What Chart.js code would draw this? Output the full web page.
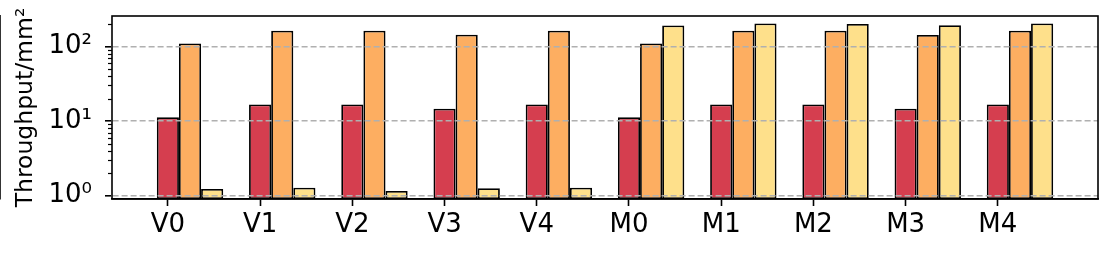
<!DOCTYPE html>
<html>
<head>
<meta charset="utf-8">
<script src="https://cdn.jsdelivr.net/npm/chart.js@4"></script>
<style>
  html, body { margin: 0; padding: 0; background: #fff; }
  #wrap { width: 1114px; height: 257px; }
</style>
</head>
<body>
<div id="wrap"><canvas id="mainChart"></canvas></div>
<script>
const categories = ["V0", "V1", "V2", "V3", "V4", "M0", "M1", "M2", "M3", "M4"];

const redValues = [11.2, 16.7, 16.7, 14.6, 16.7, 11.2, 16.7, 16.7, 14.6, 16.7];
const orangeValues = [109, 162, 162, 143, 162, 109, 162, 162, 142, 162];
const yellowValues = [1.23, 1.28, 1.16, 1.26, 1.28, 190, 203, 200, 192, 203];

const yMajor = [1, 10, 100];
const yTickLabels = ["10\u2070", "10\u00b9", "10\u00b2"];

const BAR_W = 0.24;
const FONT = "'DejaVu Sans', sans-serif";

// minor log ticks (2..9 per decade) inside the y range
const Y_MIN = 0.903, Y_MAX = 255;
const minorTicks = [];
[0.1, 1, 10, 100].forEach(d => {
  for (let k = 2; k <= 9; k++) {
    const v = k * d;
    if (v > Y_MIN && v < Y_MAX) minorTicks.push(v);
  }
});

// bars sit at x + k*w like matplotlib, group centre is one bar right of the tick
const toPoints = vals => vals.map((v, i) => ({ x: i + BAR_W, y: v }));

const framePlugin = {
  id: "frame",
  afterDraw(chart) {
    const { ctx, chartArea: a, scales } = chart;
    const y = scales.y;
    ctx.save();
    ctx.strokeStyle = "#000";
    ctx.lineWidth = 1.2;
    minorTicks.forEach(v => {
      const py = Math.round(y.getPixelForValue(v)) + 0.5;
      ctx.beginPath();
      ctx.moveTo(a.left - 4, py);
      ctx.lineTo(a.left, py);
      ctx.stroke();
    });
    ctx.lineWidth = 1.6;
    ctx.strokeRect(a.left, a.top, a.right - a.left, a.bottom - a.top);
    ctx.restore();
  }
};

const barStyle = {
  borderColor: "#000",
  borderWidth: 1.8,
  borderSkipped: false,
  categoryPercentage: BAR_W * 3,
  barPercentage: 1
};

new Chart(document.getElementById("mainChart"), {
  type: "bar",
  data: {
    datasets: [
      { label: "A", data: toPoints(redValues), backgroundColor: "#d53e4f", ...barStyle },
      { label: "B", data: toPoints(orangeValues), backgroundColor: "#fdae61", ...barStyle },
      { label: "C", data: toPoints(yellowValues), backgroundColor: "#fee08b", ...barStyle }
    ]
  },
  options: {
    responsive: true,
    maintainAspectRatio: false,
    animation: false,
    layout: { padding: { top: 16, right: 16, left: 0, bottom: 0 } },
    plugins: {
      legend: { display: false },
      tooltip: { enabled: false }
    },
    scales: {
      x: {
        type: "linear",
        offset: false,
        min: -0.606,
        max: 10.086,
        afterBuildTicks: s => { s.ticks = categories.map((c, i) => ({ value: i })); },
        afterFit: s => { s.height = 58; s.paddingLeft = 0; s.paddingRight = 0; },
        ticks: {
          autoSkip: false,
          maxRotation: 0,
          padding: 4,
          color: "#000",
          font: { family: FONT, size: 26 },
          callback: v => categories[v]
        },
        grid: {
          offset: false,
          drawOnChartArea: false,
          tickLength: 7,
          tickWidth: 1.6,
          tickColor: "#000"
        },
        border: { color: "#000", width: 1.6 }
      },
      y: {
        type: "logarithmic",
        min: Y_MIN,
        max: Y_MAX,
        afterBuildTicks: s => { s.ticks = yMajor.map(v => ({ value: v, major: true })); },
        afterFit: s => { s.width = 112; s.paddingTop = 0; s.paddingBottom = 0; },
        ticks: {
          autoSkip: false,
          padding: 13,
          color: "#000",
          font: { family: FONT, size: 26 },
          callback: v => yTickLabels[yMajor.indexOf(v)]
        },
        grid: {
          z: 1,
          color: "#b0b0b0",
          lineWidth: 1.6,
          tickLength: 7,
          tickWidth: 1.6,
          tickColor: "#000",
          tickBorderDash: []
        },
        border: { color: "#000", width: 1.6, dash: [6, 3] },
        title: {
          display: true,
          text: "Throughput/mm\u00b2",
          color: "#000",
          font: { family: FONT, size: 23.5 },
          padding: { top: 12, bottom: 0 }
        }
      }
    }
  },
  plugins: [framePlugin]
});
</script>
</body>
</html>
